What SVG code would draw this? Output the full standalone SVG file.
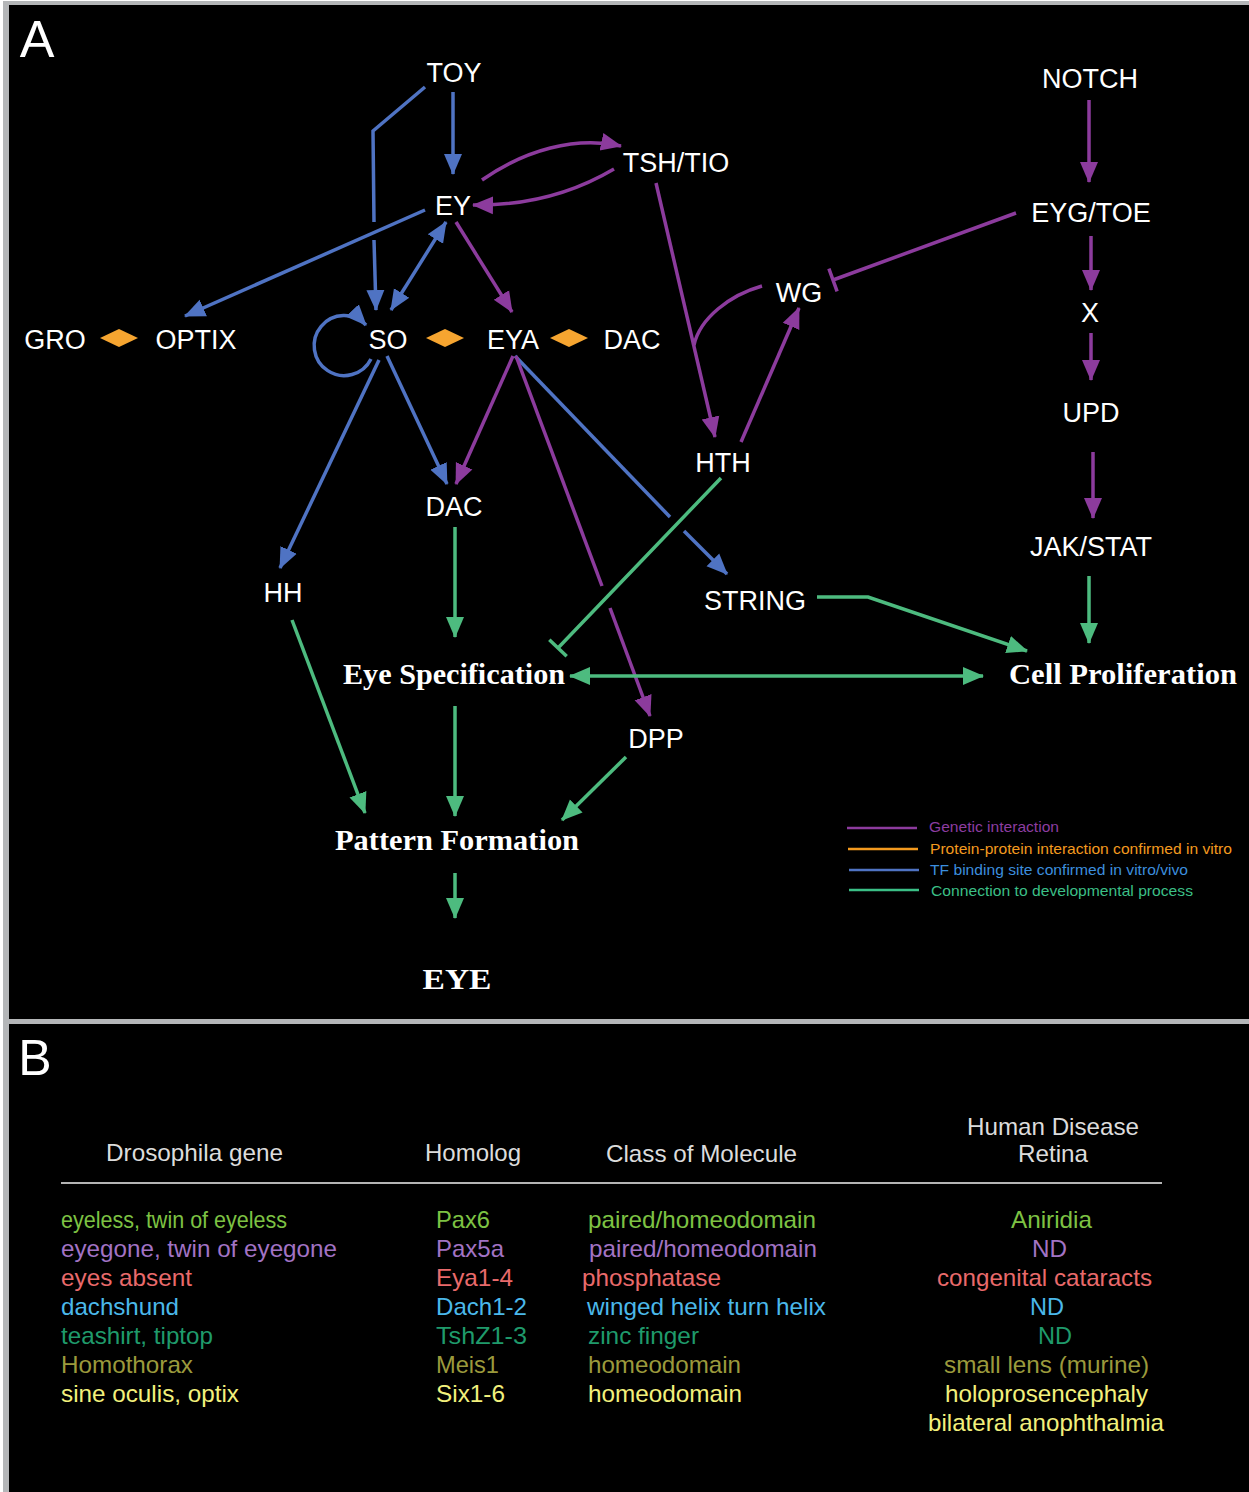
<svg xmlns="http://www.w3.org/2000/svg" width="1249" height="1492" viewBox="0 0 1249 1492">
<style>
.n{font-family:"Liberation Sans",Arial,sans-serif;font-size:27px;fill:#fff;text-anchor:middle}
.p{font-family:"Liberation Serif","Times New Roman",serif;font-weight:bold;font-size:30px;fill:#fff;text-anchor:middle}
.b{fill:none;stroke:#4f73c3;stroke-width:3.5}
.u{fill:none;stroke:#8c3b9d;stroke-width:3.5}
.g{fill:none;stroke:#4dbb7f;stroke-width:3.5}
.ab{marker-end:url(#mb)}
.au{marker-end:url(#mu)}
.ag{marker-end:url(#mg)}
.dia{fill:#f6a530}
.lg{font-family:"Liberation Sans",Arial,sans-serif;font-size:15px}
.t{font-family:"Liberation Sans",Arial,sans-serif;font-size:24px}
.h{font-family:"Liberation Sans",Arial,sans-serif;font-size:24px;fill:#dcdcdc}
.c1{fill:#7dc243}.c2{fill:#a273c4}.c3{fill:#e96a6b}.c4{fill:#4bb8ea}.c5{fill:#1f9a6b}.c6{fill:#9b9a3c}.c7{fill:#f2f07c}
</style>
<defs>
<marker id="mb" markerUnits="userSpaceOnUse" markerWidth="22" markerHeight="20" viewBox="0 0 22 20" refX="20" refY="10" orient="auto-start-reverse"><path d="M0,1 L21,10 L0,19 z" fill="#4f73c3"/></marker>
<marker id="mu" markerUnits="userSpaceOnUse" markerWidth="22" markerHeight="20" viewBox="0 0 22 20" refX="20" refY="10" orient="auto-start-reverse"><path d="M0,1 L21,10 L0,19 z" fill="#8c3b9d"/></marker>
<marker id="mg" markerUnits="userSpaceOnUse" markerWidth="22" markerHeight="20" viewBox="0 0 22 20" refX="20" refY="10" orient="auto-start-reverse"><path d="M0,1 L21,10 L0,19 z" fill="#4dbb7f"/></marker>
</defs>
<rect x="0" y="0" width="1249" height="1492" fill="#ffffff"/>
<rect x="3" y="1" width="1246" height="1491" fill="#b4b6b8"/>
<rect x="9" y="5" width="1240" height="1014" fill="#000"/>
<rect x="9" y="1024" width="1240" height="468" fill="#000"/>

<text x="37" y="57" font-family="'Liberation Sans',Arial,sans-serif" font-size="52" fill="#fff" text-anchor="middle">A</text>
<text x="35" y="1075" font-family="'Liberation Sans',Arial,sans-serif" font-size="50" fill="#fff" text-anchor="middle">B</text>

<g id="connectors">
<!-- blue -->
<path class="b ab" d="M453 92 L453 174"/>
<path class="b" d="M425 87 L373 131 L374 222"/>
<path class="b ab" d="M374 240 L376 310"/>
<path class="b ab" d="M425 210 L185 316"/>
<path class="b" d="M391 310 L446 222" marker-start="url(#mb)" marker-end="url(#mb)"/>
<path class="b ab" d="M387 356 L447 484"/>
<path class="b ab" d="M379 360 L280 568"/>
<path class="b" d="M515 356 L670 517"/>
<path class="b ab" d="M684 531 L727 574"/>
<path class="b ab" d="M371 359 A 30 30 0 1 1 366 325"/>
<!-- purple -->
<path class="u au" d="M456 222 L512 312"/>
<path class="u au" d="M482 180 C 525 150 575 136 621 146"/>
<path class="u au" d="M614 169 C 575 192 530 206 473 205"/>
<path class="u au" d="M656 183 L715 437"/>
<path class="u au" d="M741 442 L799 308"/>
<path class="u" d="M762 286 C 730 295 700 318 694 345"/>
<path class="u" d="M1016 213 L833 280 M828.9 268.7 L837.1 291.3"/>
<path class="u au" d="M513 356 L456 484"/>
<path class="u" d="M516 356 L602 586"/>
<path class="u au" d="M610 608 L650 716"/>
<path class="u au" d="M1089 100 L1089 182"/>
<path class="u au" d="M1091 236 L1091 290"/>
<path class="u au" d="M1091 333 L1091 380"/>
<path class="u au" d="M1093 452 L1093 518"/>
<!-- green -->
<path class="g ag" d="M455 527 L455 637"/>
<path class="g ag" d="M292 620 L365 813"/>
<path class="g ag" d="M455 706 L455 816"/>
<path class="g ag" d="M626 757 L562 820"/>
<path class="g ag" d="M455 873 L455 918"/>
<path class="g" d="M570 676 L983 676" marker-start="url(#mg)" marker-end="url(#mg)"/>
<path class="g ag" d="M817 597 L868 597 L1027 651"/>
<path class="g ag" d="M1089 576 L1089 643"/>
<path class="g" d="M721 478 L558 648 M549.3 639.7 L566.7 656.3"/>
</g>

<g id="interactions">
<polygon class="dia" points="100,338 119,329 138,338 119,347"/>
<polygon class="dia" points="426,338 445,329 464,338 445,347"/>
<polygon class="dia" points="550,338 569,329 588,338 569,347"/>
</g>

<g id="node-TOY"><text class="n" x="454" y="82">TOY</text></g>
<g id="node-EY"><text class="n" x="453" y="215">EY</text></g>
<g id="node-TSHTIO"><text class="n" x="676" y="172">TSH/TIO</text></g>
<g id="node-WG"><text class="n" x="799" y="302">WG</text></g>
<g id="node-NOTCH"><text class="n" x="1090" y="88">NOTCH</text></g>
<g id="node-EYGTOE"><text class="n" x="1091" y="222">EYG/TOE</text></g>
<g id="node-X"><text class="n" x="1090" y="322">X</text></g>
<g id="node-UPD"><text class="n" x="1091" y="422">UPD</text></g>
<g id="node-JAKSTAT"><text class="n" x="1091" y="556">JAK/STAT</text></g>
<g id="node-GRO"><text class="n" x="55" y="349">GRO</text></g>
<g id="node-OPTIX"><text class="n" x="196" y="349">OPTIX</text></g>
<g id="node-SO"><text class="n" x="388" y="349">SO</text></g>
<g id="node-EYA"><text class="n" x="513" y="349">EYA</text></g>
<g id="node-DAC1"><text class="n" x="632" y="349">DAC</text></g>
<g id="node-HTH"><text class="n" x="723" y="472">HTH</text></g>
<g id="node-DAC2"><text class="n" x="454" y="516">DAC</text></g>
<g id="node-HH"><text class="n" x="283" y="602">HH</text></g>
<g id="node-STRING"><text class="n" x="755" y="610">STRING</text></g>
<g id="node-DPP"><text class="n" x="656" y="748">DPP</text></g>
<g id="node-EyeSpec"><text class="p" x="454" y="684" textLength="222" lengthAdjust="spacingAndGlyphs">Eye Specification</text></g>
<g id="node-CellProl"><text class="p" x="1123" y="684" textLength="228" lengthAdjust="spacingAndGlyphs">Cell Proliferation</text></g>
<g id="node-Pattern"><text class="p" x="457" y="850" textLength="244" lengthAdjust="spacingAndGlyphs">Pattern Formation</text></g>
<g id="node-EYE"><text class="p" x="457" y="989" font-size="34" textLength="69" lengthAdjust="spacingAndGlyphs">EYE</text></g>

<g id="legend">
<line x1="847" y1="828" x2="917" y2="828" stroke="#8c3b9d" stroke-width="2.5"/>
<line x1="848" y1="849" x2="918" y2="849" stroke="#f39a1f" stroke-width="2.5"/>
<line x1="849" y1="870" x2="919" y2="870" stroke="#4f73c3" stroke-width="2.5"/>
<line x1="849" y1="890" x2="919" y2="890" stroke="#3bbf86" stroke-width="2.5"/>
<text class="lg" x="929" y="832" fill="#8d3da0" textLength="130" lengthAdjust="spacingAndGlyphs">Genetic interaction</text>
<text class="lg" x="930" y="854" fill="#f39a1f" textLength="302" lengthAdjust="spacingAndGlyphs">Protein-protein interaction confirmed in vitro</text>
<text class="lg" x="930" y="875" fill="#3c8ede" textLength="258" lengthAdjust="spacingAndGlyphs">TF binding site confirmed in vitro/vivo</text>
<text class="lg" x="931" y="896" fill="#3bbf86" textLength="262" lengthAdjust="spacingAndGlyphs">Connection to developmental process</text>
</g>

<g id="table">
<text class="h" x="106" y="1161" textLength="177" lengthAdjust="spacingAndGlyphs">Drosophila gene</text>
<text class="h" x="425" y="1161" textLength="96" lengthAdjust="spacingAndGlyphs">Homolog</text>
<text class="h" x="606" y="1162" textLength="191" lengthAdjust="spacingAndGlyphs">Class of Molecule</text>
<text class="h" x="967" y="1135" textLength="172" lengthAdjust="spacingAndGlyphs">Human Disease</text>
<text class="h" x="1018" y="1162" textLength="70" lengthAdjust="spacingAndGlyphs">Retina</text>
<line x1="61" y1="1183" x2="1162" y2="1183" stroke="#b4b4b4" stroke-width="2"/>

<text class="t c1" x="61" y="1228" textLength="226" lengthAdjust="spacingAndGlyphs">eyeless, twin of eyeless</text>
<text class="t c1" x="436" y="1228" textLength="54" lengthAdjust="spacingAndGlyphs">Pax6</text>
<text class="t c1" x="588" y="1228" textLength="228" lengthAdjust="spacingAndGlyphs">paired/homeodomain</text>
<text class="t c1" x="1011" y="1228" textLength="81" lengthAdjust="spacingAndGlyphs">Aniridia</text>

<text class="t c2" x="61" y="1257" textLength="276" lengthAdjust="spacingAndGlyphs">eyegone, twin of eyegone</text>
<text class="t c2" x="436" y="1257" textLength="68" lengthAdjust="spacingAndGlyphs">Pax5a</text>
<text class="t c2" x="589" y="1257" textLength="228" lengthAdjust="spacingAndGlyphs">paired/homeodomain</text>
<text class="t c2" x="1032" y="1257" textLength="35" lengthAdjust="spacingAndGlyphs">ND</text>

<text class="t c3" x="61" y="1286" textLength="131" lengthAdjust="spacingAndGlyphs">eyes absent</text>
<text class="t c3" x="436" y="1286" textLength="77" lengthAdjust="spacingAndGlyphs">Eya1-4</text>
<text class="t c3" x="582" y="1286" textLength="139" lengthAdjust="spacingAndGlyphs">phosphatase</text>
<text class="t c3" x="937" y="1286" textLength="215" lengthAdjust="spacingAndGlyphs">congenital cataracts</text>

<text class="t c4" x="61" y="1315" textLength="118" lengthAdjust="spacingAndGlyphs">dachshund</text>
<text class="t c4" x="436" y="1315" textLength="91" lengthAdjust="spacingAndGlyphs">Dach1-2</text>
<text class="t c4" x="587" y="1315" textLength="239" lengthAdjust="spacingAndGlyphs">winged helix turn helix</text>
<text class="t c4" x="1030" y="1315" textLength="34" lengthAdjust="spacingAndGlyphs">ND</text>

<text class="t c5" x="61" y="1344" textLength="152" lengthAdjust="spacingAndGlyphs">teashirt, tiptop</text>
<text class="t c5" x="436" y="1344" textLength="91" lengthAdjust="spacingAndGlyphs">TshZ1-3</text>
<text class="t c5" x="588" y="1344" textLength="111" lengthAdjust="spacingAndGlyphs">zinc finger</text>
<text class="t c5" x="1038" y="1344" textLength="34" lengthAdjust="spacingAndGlyphs">ND</text>

<text class="t c6" x="61" y="1373" textLength="132" lengthAdjust="spacingAndGlyphs">Homothorax</text>
<text class="t c6" x="436" y="1373" textLength="63" lengthAdjust="spacingAndGlyphs">Meis1</text>
<text class="t c6" x="588" y="1373" textLength="153" lengthAdjust="spacingAndGlyphs">homeodomain</text>
<text class="t c6" x="944" y="1373" textLength="205" lengthAdjust="spacingAndGlyphs">small lens (murine)</text>

<text class="t c7" x="61" y="1402" textLength="178" lengthAdjust="spacingAndGlyphs">sine oculis, optix</text>
<text class="t c7" x="436" y="1402" textLength="69" lengthAdjust="spacingAndGlyphs">Six1-6</text>
<text class="t c7" x="588" y="1402" textLength="154" lengthAdjust="spacingAndGlyphs">homeodomain</text>
<text class="t c7" x="945" y="1402" textLength="203" lengthAdjust="spacingAndGlyphs">holoprosencephaly</text>
<text class="t c7" x="928" y="1431" textLength="236" lengthAdjust="spacingAndGlyphs">bilateral anophthalmia</text>
</g>
</svg>
